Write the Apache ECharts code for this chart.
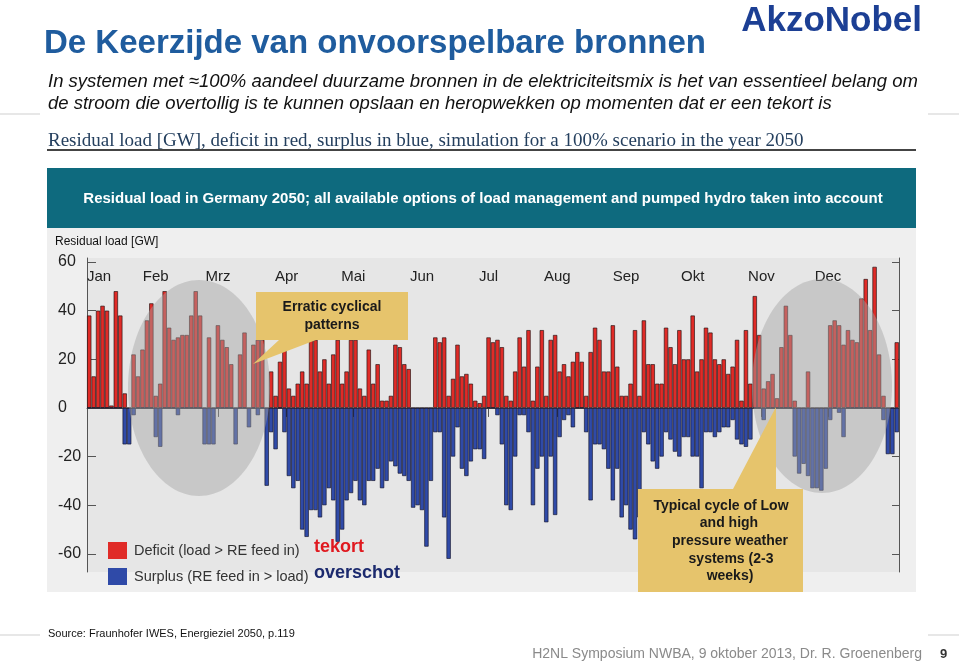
<!DOCTYPE html>
<html>
<head>
<meta charset="utf-8">
<script src="https://cdn.jsdelivr.net/npm/echarts@6/dist/echarts.min.js"></script>
<style>
  html, body { margin: 0; padding: 0; background: #fff; }
  #chart { width: 959px; height: 663px; }
</style>
</head>
<body>
<div id="chart"></div>
<script>
// residual load per 2-day period, GW
// deficit = highest positive value in the period, surplus = deepest negative value
const deficit = [
  38, 13, 40, 42, 40, 1, 48, 38, 6, 0,
  22, 13, 24, 36, 43, 5, 10, 48, 33, 28,
  29, 30, 30, 38, 48, 38, 0, 29, 0, 34,
  28, 25, 18, 0, 22, 31, 0, 26, 28, 28,
  0, 15, 5, 19, 24, 8, 5, 10, 15, 10,
  28, 28, 15, 20, 10, 22, 28, 10, 15, 28,
  28, 8, 5, 24, 10, 18, 3, 3, 5, 26,
  25, 18, 16, 0, 0, 0, 0, 0, 29, 27,
  29, 5, 12, 26, 13, 14, 10, 3, 2, 5,
  29, 27, 28, 25, 5, 3, 15, 29, 17, 32,
  3, 17, 32, 5, 28, 30, 15, 18, 13, 19,
  23, 19, 5, 23, 33, 28, 15, 15, 34, 17,
  5, 5, 10, 32, 5, 36, 18, 18, 10, 10,
  33, 25, 18, 32, 20, 20, 38, 15, 20, 33,
  31, 20, 18, 20, 14, 17, 28, 3, 32, 10,
  46, 30, 8, 11, 14, 4, 25, 42, 30, 3,
  0, 0, 15, 0, 0, 0, 0, 34, 36, 34,
  26, 32, 28, 27, 45, 53, 32, 58, 22, 5,
  0, 0, 27
];
const surplus = [
  0, 0, 0, 0, 0, 0, 0, 0, -15, -15,
  -3, 0, 0, 0, 0, -12, -16, 0, 0, 0,
  -3, 0, 0, 0, 0, 0, -15, -15, -15, 0,
  0, 0, 0, -15, 0, 0, -8, 0, -3, 0,
  -32, -10, -17, 0, -10, -28, -33, -30, -50, -53,
  -42, -42, -45, -40, -33, -38, -55, -50, -38, -35,
  -30, -38, -40, -30, -30, -25, -33, -30, -22, -24,
  -27, -28, -30, -41, -40, -42, -57, -30, -10, -10,
  -45, -62, -20, -8, -25, -28, -22, -17, -17, -21,
  0, 0, -3, -15, -40, -42, -20, -3, -3, -10,
  -40, -25, -20, -47, -20, -44, -12, -5, -3, -8,
  0, 0, -10, -38, -15, -15, -17, -25, -38, -25,
  -45, -40, -50, -54, -45, -10, -15, -22, -25, -20,
  -10, -13, -18, -20, -12, -12, -20, -20, -33, -10,
  -10, -12, -10, -8, -8, -5, -13, -15, -16, -13,
  0, 0, -5, 0, 0, 0, 0, 0, 0, -20,
  -27, -23, -28, -33, -33, -34, -25, -5, 0, -2,
  -12, 0, 0, 0, 0, 0, 0, 0, 0, -5,
  -19, -19, -10
];
const periods = deficit.map((_, i) => 'Tag ' + (i * 2 + 1));

const monthNames = ['Jan', 'Feb', 'Mrz', 'Apr', 'Mai', 'Jun', 'Jul', 'Aug', 'Sep', 'Okt', 'Nov', 'Dec'];
const monthStarts = [0, 31, 59, 90, 120, 151, 181, 212, 243, 273, 304, 334];
const yTicks = [-60, -40, -20, 0, 20, 40, 60];

const FONT = '"Liberation Sans", Arial, sans-serif';
const redColor = '#e02b27';
const blueColor = '#2f4aa8';

function txt(text, x, y, opts) {
  return {
    type: 'text',
    z: opts.z || 20,
    style: Object.assign({
      text: text, x: x, y: y,
      fill: '#111',
      align: 'left', verticalAlign: 'middle',
      textAlign: 'left', textVerticalAlign: 'middle'
    }, opts.style)
  };
}

const chart = echarts.init(document.getElementById('chart'));

const option = {
  animation: false,
  backgroundColor: '#ffffff',
  grid: { left: 87, right: 60, top: 258, bottom: 91 },
  legend: {
    data: ['Deficit (load > RE feed in)', 'Surplus (RE feed in > load)'],
    orient: 'vertical',
    left: 103,
    top: 537,
    icon: 'rect',
    itemWidth: 19,
    itemHeight: 17,
    itemGap: 9,
    itemStyle: { borderWidth: 0 },
    textStyle: { fontFamily: FONT, fontSize: 14.5, color: '#333', padding: [0, 0, 0, 2] }
  },
  xAxis: [
    {
      type: 'category',
      data: periods,
      show: false
    },
    {
      type: 'value',
      position: 'top',
      min: 0,
      max: 366,
      axisLine: { show: true, lineStyle: { color: '#555', width: 1 } },
      axisTick: { show: true, inside: true, length: 9, customValues: monthStarts, lineStyle: { color: '#555' } },
      axisLabel: {
        inside: true,
        margin: 11,
        customValues: monthStarts,
        alignMinLabel: 'left',
        fontFamily: FONT,
        fontSize: 15,
        color: '#222',
        formatter: v => monthNames[monthStarts.indexOf(v)] || ''
      },
      splitLine: { show: false }
    }
  ],
  yAxis: [
    {
      type: 'value',
      min: -67.4,
      max: 61.6,
      axisLine: { show: true, lineStyle: { color: '#555' } },
      axisTick: { show: true, inside: true, length: 9, customValues: yTicks, lineStyle: { color: '#555' } },
      axisLabel: {
        customValues: yTicks,
        align: 'left',
        margin: 29,
        fontFamily: FONT,
        fontSize: 16,
        color: '#222'
      },
      splitLine: { show: false }
    },
    {
      type: 'value',
      position: 'right',
      min: -67.4,
      max: 61.6,
      axisLine: { show: true, lineStyle: { color: '#555' } },
      axisTick: { show: true, inside: true, length: 7, customValues: yTicks, lineStyle: { color: '#555' } },
      axisLabel: { show: false },
      splitLine: { show: false }
    }
  ],
  series: [
    {
      name: 'Deficit (load > RE feed in)',
      type: 'bar',
      data: deficit,
      barGap: '-100%',
      barCategoryGap: 0,
      itemStyle: { color: redColor, borderColor: 'rgba(30,15,15,0.8)', borderWidth: 0.8 }
    },
    {
      name: 'Surplus (RE feed in > load)',
      type: 'bar',
      data: surplus,
      barGap: '-100%',
      barCategoryGap: 0,
      itemStyle: { color: blueColor, borderColor: 'rgba(15,15,40,0.8)', borderWidth: 0.8 }
    }
  ],
  graphic: [
    // slide header
    txt('De Keerzijde van onvoorspelbare bronnen', 44, 44, {
      style: { font: 'bold 33px ' + FONT, fill: '#1f5c9e' }
    }),
    txt('AkzoNobel', 922, 21, {
      style: { font: 'bold 35px ' + FONT, fill: '#1c3f94', align: 'right', textAlign: 'right' }
    }),
    txt('In systemen met \u2248100% aandeel duurzame bronnen in de elektriciteitsmix is het van essentieel belang om', 48, 82, {
      style: { font: 'italic 18.5px ' + FONT, fill: '#111' }
    }),
    txt('de stroom die overtollig is te kunnen opslaan en heropwekken op momenten dat er een tekort is', 48, 104, {
      style: { font: 'italic 18.5px ' + FONT, fill: '#111' }
    }),
    { type: 'line', shape: { x1: 0, y1: 114, x2: 40, y2: 114 }, style: { stroke: '#cfcfcf', lineWidth: 1 } },
    { type: 'line', shape: { x1: 928, y1: 114, x2: 959, y2: 114 }, style: { stroke: '#cfcfcf', lineWidth: 1 } },
    { type: 'line', shape: { x1: 0, y1: 635, x2: 40, y2: 635 }, style: { stroke: '#cfcfcf', lineWidth: 1 } },
    { type: 'line', shape: { x1: 928, y1: 635, x2: 959, y2: 635 }, style: { stroke: '#cfcfcf', lineWidth: 1 } },

    // figure caption
    txt('Residual load [GW], deficit in red, surplus in blue, simulation for a 100% scenario in the year 2050', 48, 141, {
      style: { font: '19px "Liberation Serif", "DejaVu Serif", serif', fill: '#243f5e' }
    }),
    { type: 'line', shape: { x1: 47, y1: 150, x2: 916, y2: 150 }, style: { stroke: '#444', lineWidth: 2 } },

    // teal band
    { type: 'rect', z: -10, shape: { x: 47, y: 168, width: 869, height: 60 }, style: { fill: '#0e6a7e' } },
    txt('Residual load in Germany 2050; all available options of load management and pumped hydro taken into account', 483, 199, {
      style: { font: 'bold 15px ' + FONT, fill: '#ffffff', align: 'center', textAlign: 'center' }
    }),

    // chart panel
    { type: 'rect', z: -10, shape: { x: 47, y: 228, width: 869, height: 364 }, style: { fill: '#efefef' } },
    { type: 'rect', z: -9, shape: { x: 87, y: 258, width: 812, height: 314 }, style: { fill: '#e6e6e6' } },
    txt('Residual load [GW]', 55, 242, { style: { font: '12px ' + FONT, fill: '#111' } }),

    // highlighted periods
    { type: 'ellipse', z: 10, shape: { cx: 199, cy: 388, rx: 71, ry: 108 }, style: { fill: 'rgba(165,165,165,0.45)' } },
    { type: 'ellipse', z: 10, shape: { cx: 822, cy: 386, rx: 70, ry: 107 }, style: { fill: 'rgba(165,165,165,0.45)' } },

    // callouts
    {
      type: 'polygon', z: 15,
      shape: { points: [[256, 292], [408, 292], [408, 340], [316, 340], [253, 364], [279, 340], [256, 340]] },
      style: { fill: '#e6c46c' }
    },
    txt('Erratic cyclical', 332, 307, { style: { font: 'bold 14px ' + FONT, fill: '#1a1a1a', align: 'center', textAlign: 'center' } }),
    txt('patterns', 332, 325, { style: { font: 'bold 14px ' + FONT, fill: '#1a1a1a', align: 'center', textAlign: 'center' } }),
    {
      type: 'polygon', z: 15,
      shape: { points: [[638, 489], [733, 489], [776, 407], [776, 489], [803, 489], [803, 592], [638, 592]] },
      style: { fill: '#e6c46c' }
    },
    txt('Typical cycle of Low', 721, 506, { style: { font: 'bold 14px ' + FONT, fill: '#1a1a1a', align: 'center', textAlign: 'center' } }),
    txt('and high', 729, 523, { style: { font: 'bold 14px ' + FONT, fill: '#1a1a1a', align: 'center', textAlign: 'center' } }),
    txt('pressure weather', 730, 541, { style: { font: 'bold 14px ' + FONT, fill: '#1a1a1a', align: 'center', textAlign: 'center' } }),
    txt('systems (2-3', 731, 559, { style: { font: 'bold 14px ' + FONT, fill: '#1a1a1a', align: 'center', textAlign: 'center' } }),
    txt('weeks)', 730, 576, { style: { font: 'bold 14px ' + FONT, fill: '#1a1a1a', align: 'center', textAlign: 'center' } }),

    // Dutch legend notes
    txt('tekort', 314, 547, { style: { font: 'bold 18px ' + FONT, fill: '#e0191f' } }),
    txt('overschot', 314, 573, { style: { font: 'bold 18px ' + FONT, fill: '#1c2a6e' } }),

    // footer
    txt('Source: Fraunhofer IWES, Energieziel 2050, p.119', 48, 634, { style: { font: '11px ' + FONT, fill: '#111' } }),
    txt('H2NL Symposium NWBA, 9 oktober 2013, Dr. R. Groenenberg', 922, 654, {
      style: { font: '14px ' + FONT, fill: '#8a8a8a', align: 'right', textAlign: 'right' }
    }),
    txt('9', 940, 654, { style: { font: 'bold 13px ' + FONT, fill: '#333' } })
  ]
};

chart.setOption(option);
window.addEventListener('resize', () => chart.resize());
</script>
</body>
</html>
